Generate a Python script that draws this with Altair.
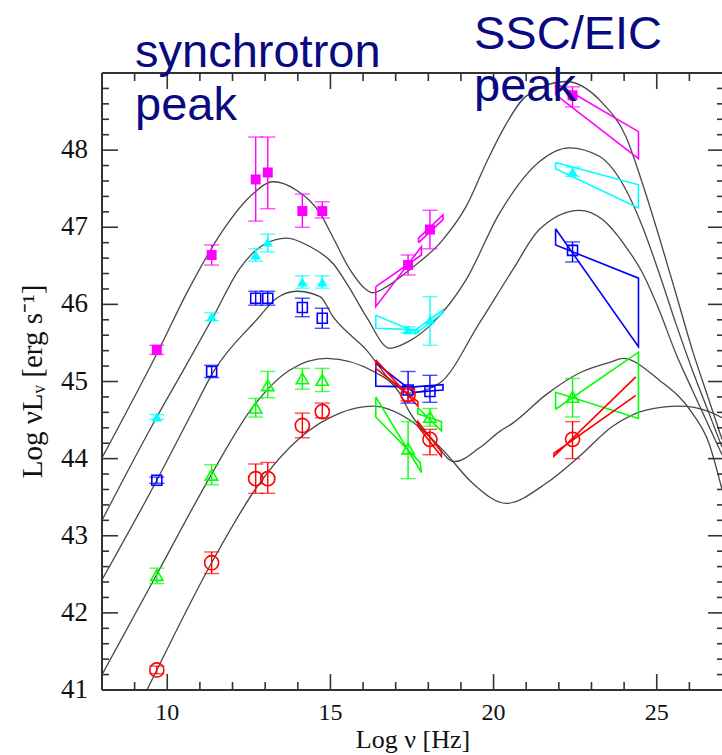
import altair as alt
import pandas as pd

# ---------------------------------------------------------------
# Plot frame (pixels) and data ranges
# ---------------------------------------------------------------
W, H = 620, 617
XMIN, XMAX = 8, 27
YMIN, YMAX = 41, 49

# log frequencies of the photometric points: radio/mm/IR/optical, X-ray, gamma
NU = [9.68, 11.36, 12.71, 13.08, 14.14, 14.75, 17.38, 18.05, 22.42]

# five luminosity bins: value, upper and lower end of the error bar
MAG_Y = [45.41, 46.64, 47.62, 47.71, 47.21, 47.21, 46.51, 46.97, 48.71]
MAG_HI = [45.47, 46.77, 48.17, 48.17, 47.43, 47.33, 46.64, 47.22, 48.82]
MAG_LO = [45.35, 46.51, 47.08, 47.24, 47.00, 47.12, 46.38, 46.72, 48.56]

CYA_Y = [44.54, 45.84, 46.64, 46.81, 46.29, 46.29, 45.67, 45.80, 47.72]
CYA_HI = [44.57, 45.89, 46.72, 46.91, 46.37, 46.37, 45.71, 46.10, 47.78]
CYA_LO = [44.51, 45.79, 46.56, 46.68, 46.21, 46.21, 45.63, 45.47, 47.66]

BLU_Y = [43.72, 45.13, 46.08, 46.08, 45.96, 45.82, 44.89, 44.87, 46.70]
BLU_HI = [43.76, 45.21, 46.17, 46.17, 46.08, 45.95, 45.13, 45.08, 46.81]
BLU_LO = [43.68, 45.05, 45.99, 45.99, 45.84, 45.69, 44.72, 44.73, 46.55]

GRN_Y = [42.49, 43.79, 44.66, 44.95, 45.04, 45.02, 44.13, 44.54, 44.80]
GRN_HI = [42.58, 43.92, 44.78, 45.13, 45.17, 45.17, 44.48, 44.65, 45.04]
GRN_LO = [42.38, 43.66, 44.54, 44.79, 44.90, 44.87, 43.74, 44.42, 44.54]

RED_Y = [41.26, 42.65, 43.74, 43.74, 44.43, 44.61, 44.83, 44.25, 44.25]
RED_HI = [41.31, 42.79, 43.93, 43.95, 44.59, 44.72, 44.90, 44.38, 44.48]
RED_LO = [41.21, 42.51, 43.55, 43.55, 44.27, 44.53, 44.75, 44.05, 44.00]

# spectral bow-ties (outline vertices, log nu / log nuLnu)
MAG_SOFTX = [(16.39, 46.23), (17.79, 46.64), (17.79, 46.75), (16.39, 45.97), (16.39, 46.23)]
MAG_HARDX = [(17.70, 46.80), (18.45, 47.10), (18.45, 47.16), (17.70, 46.86), (17.70, 46.80)]
MAG_GAMMA = [(21.90, 48.87), (24.44, 48.24), (24.44, 47.89), (21.90, 48.72), (21.90, 48.87)]

CYA_SOFTX = [(16.39, 45.86), (17.68, 45.63), (17.68, 45.67), (16.39, 45.69), (16.39, 45.86)]
CYA_HARDX = [(17.58, 45.61), (18.45, 45.89), (18.45, 45.93), (17.58, 45.66), (17.58, 45.61)]
CYA_GAMMA = [(21.90, 47.84), (24.44, 47.55), (24.44, 47.25), (21.90, 47.76), (21.90, 47.84)]

BLU_SOFTX = [(16.39, 45.24), (17.55, 44.86), (17.55, 44.93), (16.39, 44.94), (16.39, 45.24)]
BLU_HARDX = [(17.55, 44.93), (18.45, 44.96), (18.45, 44.89), (17.55, 44.86), (17.55, 44.93)]
BLU_GAMMA = [(21.90, 46.98), (24.44, 45.45), (24.44, 46.34), (21.90, 46.77), (21.90, 46.98)]

GRN_SOFTX = [(16.39, 44.80), (17.79, 43.82), (17.75, 43.95), (16.39, 44.54), (16.39, 44.80)]
GRN_HARDX = [(17.68, 44.66), (18.40, 44.36), (18.40, 44.48), (17.68, 44.58), (17.68, 44.66)]
GRN_GAMMA = [(21.90, 44.64), (24.44, 45.38), (24.44, 44.52), (21.90, 44.86), (21.90, 44.64)]

RED_SOFTX = [(16.39, 45.28), (17.68, 44.68), (17.68, 44.74), (16.39, 45.17), (16.39, 45.28)]
RED_HARDX = [(17.68, 44.42), (18.40, 44.03), (18.40, 44.09), (17.68, 44.48), (17.68, 44.42)]
RED_GAMMA = [(24.36, 45.06), (21.85, 44.03), (21.85, 44.07), (24.36, 44.82)]

# model SEDs (knots along each curve)
CURVE_1 = [(8.0, 44.01), (9.68, 45.36), (10.7, 46.23), (11.72, 46.97), (12.54, 47.40),
           (13.25, 47.59), (13.96, 47.48), (14.7, 47.17), (15.1, 46.85), (15.6, 46.45),
           (16.1, 46.19), (16.3, 46.15), (16.8, 46.25), (17.43, 46.45), (18.45, 46.84),
           (19.16, 47.27), (19.77, 47.83), (20.28, 48.26), (21.0, 48.70), (22.2, 48.89),
           (23.34, 48.61), (24.05, 48.18), (24.56, 47.57), (25.07, 46.88), (25.58, 46.15),
           (26.09, 45.41), (26.6, 44.76), (27.0, 44.25)]
CURVE_2 = [(8.0, 43.20), (9.68, 44.54), (10.5, 45.15), (11.41, 45.84), (12.23, 46.47),
           (12.94, 46.77), (13.66, 46.86), (14.37, 46.75), (15.1, 46.52), (15.6, 46.20),
           (16.1, 45.84), (16.82, 45.43), (17.4, 45.52), (18.14, 45.76), (19.16, 46.32),
           (20.18, 47.18), (21.4, 47.85), (22.32, 48.03), (23.24, 47.92), (24.05, 47.49),
           (24.56, 47.01), (25.07, 46.41), (25.58, 45.76), (26.09, 45.15), (26.6, 44.59),
           (27.0, 44.15)]
CURVE_3 = [(8.0, 42.43), (9.68, 43.72), (10.7, 44.55), (11.45, 45.15), (12.74, 45.80),
           (13.35, 46.08), (13.96, 46.17), (14.68, 46.10), (15.08, 45.84), (16.1, 45.41),
           (16.92, 44.98), (17.43, 44.85), (18.35, 44.98), (19.57, 45.76), (20.59, 46.45),
           (21.4, 46.97), (22.63, 47.22), (23.34, 47.10), (24.05, 46.75), (24.56, 46.41),
           (25.07, 45.93), (25.58, 45.37), (26.09, 44.89), (26.6, 44.42), (27.0, 44.05)]
CURVE_4 = [(8.0, 41.20), (9.68, 42.50), (11.36, 43.80), (12.64, 44.68), (13.76, 45.15),
           (14.88, 45.30), (16.41, 45.11), (17.12, 44.85), (17.43, 44.60), (18.14, 44.24),
           (18.8, 43.96), (19.57, 44.14), (20.18, 44.35), (20.59, 44.46), (21.61, 44.83),
           (22.63, 45.11), (23.65, 45.26), (23.95, 45.30), (25.07, 45.02), (26.09, 44.59),
           (26.6, 44.20), (27.0, 43.60)]
CURVE_5 = [(9.2, 40.85), (9.68, 41.26), (11.36, 42.65), (12.81, 43.67), (14.07, 44.27),
           (15.29, 44.59), (16.3, 44.68), (17.43, 44.50), (18.45, 44.11), (19.36, 43.68),
           (20.39, 43.42), (21.61, 43.68), (22.63, 44.03), (23.65, 44.42), (24.67, 44.63),
           (25.69, 44.68), (26.6, 44.61), (27.0, 44.53)]

# axis ticks and labels
X_LABELS = [10, 15, 20, 25]
Y_LABELS = [41, 42, 43, 44, 45, 46, 47, 48]
X_MINOR = [v for v in range(9, 27) if v % 5 != 0]
X_MAJOR = [10, 15, 20, 25]
Y_MINOR = [round(41 + 0.2 * k, 1) for k in range(1, 40) if k % 5 != 0]
Y_MAJOR = [42, 43, 44, 45, 46, 47, 48]

MAGENTA, CYAN, BLUE, GREEN, RED = "#ff00ff", "#00ffff", "#0000ff", "#00ff00", "#ff0000"
NAVY = "#0a0a80"
INK = "#333333"
SERIF = "Liberation Serif"

xs = alt.Scale(domain=[XMIN, XMAX], nice=False, zero=False)
ys = alt.Scale(domain=[YMIN, YMAX], nice=False, zero=False)
X = lambda f: alt.X(f, scale=xs, axis=None)
Y = lambda f: alt.Y(f, scale=ys, axis=None)


def series_frame(ys_, hi, lo):
    return pd.DataFrame({"x": NU, "y": ys_, "hi": hi, "lo": lo})


def outline_frame(groups):
    rows = []
    for gid, (pts, col) in enumerate(groups):
        for k, (x, y) in enumerate(pts):
            rows.append({"g": gid, "k": k, "x": x, "y": y, "c": col})
    return pd.DataFrame(rows)


# black model curves
curves = outline_frame([(c, INK) for c in (CURVE_1, CURVE_2, CURVE_3, CURVE_4, CURVE_5)])
curve_layer = alt.Chart(curves).mark_line(
    color="#474747", strokeWidth=1.3, interpolate="monotone", clip=True
).encode(x=X("x:Q"), y=Y("y:Q"), detail="g:N", order="k:Q")

# bow-ties
bows = outline_frame([
    (MAG_SOFTX, MAGENTA), (MAG_HARDX, MAGENTA), (MAG_GAMMA, MAGENTA),
    (CYA_SOFTX, CYAN), (CYA_HARDX, CYAN), (CYA_GAMMA, CYAN),
    (BLU_SOFTX, BLUE), (BLU_HARDX, BLUE), (BLU_GAMMA, BLUE),
    (GRN_SOFTX, GREEN), (GRN_HARDX, GREEN), (GRN_GAMMA, GREEN),
    (RED_SOFTX, RED), (RED_HARDX, RED), (RED_GAMMA, RED),
])
bow_layer = alt.Chart(bows).mark_line(strokeWidth=1.6, clip=True).encode(
    x=X("x:Q"), y=Y("y:Q"), detail="g:N", order="k:Q",
    color=alt.Color("c:N", scale=None),
)

layers = [curve_layer, bow_layer]

marker_specs = [
    (MAG_Y, MAG_HI, MAG_LO, MAGENTA, "square", True, 100),
    (CYA_Y, CYA_HI, CYA_LO, CYAN, "triangle-up", True, 110),
    (BLU_Y, BLU_HI, BLU_LO, BLUE, "square", False, 100),
    (GRN_Y, GRN_HI, GRN_LO, GREEN, "triangle-up", False, 150),
    (RED_Y, RED_HI, RED_LO, RED, "circle", False, 200),
]
for yv, hi, lo, col, shape, filled, size in marker_specs:
    df = series_frame(yv, hi, lo)
    base = alt.Chart(df)
    layers.append(base.mark_rule(color=col, strokeWidth=1.4, clip=True).encode(
        x=X("x:Q"), y=Y("lo:Q"), y2="hi:Q"))
    layers.append(base.mark_tick(color=col, orient="horizontal", size=15, thickness=1.4,
                                 clip=True).encode(x=X("x:Q"), y=Y("hi:Q")))
    layers.append(base.mark_tick(color=col, orient="horizontal", size=15, thickness=1.4,
                                 clip=True).encode(x=X("x:Q"), y=Y("lo:Q")))
    layers.append(base.mark_point(shape=shape, filled=filled, size=size, color=col,
                                  opacity=1, strokeWidth=1.6, clip=True).encode(
        x=X("x:Q"), y=Y("y:Q")))

# frame: left, top, bottom edges
frame = alt.Chart(pd.DataFrame({"a": [0]}))
layers += [
    frame.mark_rule(color=INK, strokeWidth=2).encode(
        x=alt.value(0), y=alt.value(0), y2=alt.value(H)),
    frame.mark_rule(color=INK, strokeWidth=2).encode(
        x=alt.value(0), x2=alt.value(W + 2), y=alt.value(0)),
    frame.mark_rule(color=INK, strokeWidth=2).encode(
        x=alt.value(0), x2=alt.value(W + 2), y=alt.value(H)),
]

# inward tick marks on all four sides
def xticks(vals, length):
    d = alt.Chart(pd.DataFrame({"x": vals}))
    return [
        d.mark_rule(color=INK, strokeWidth=1.6).encode(
            x=X("x:Q"), y=alt.value(H), y2=alt.value(H - length)),
        d.mark_rule(color=INK, strokeWidth=1.6).encode(
            x=X("x:Q"), y=alt.value(0), y2=alt.value(length)),
    ]


def yticks(vals, length):
    d = alt.Chart(pd.DataFrame({"y": vals}))
    return [
        d.mark_rule(color=INK, strokeWidth=1.6).encode(
            y=Y("y:Q"), x=alt.value(0), x2=alt.value(length)),
        d.mark_rule(color=INK, strokeWidth=1.6).encode(
            y=Y("y:Q"), x=alt.value(W + 2), x2=alt.value(W + 2 - length)),
    ]


layers += xticks(X_MINOR, 8) + xticks(X_MAJOR, 16) + yticks(Y_MINOR, 7) + yticks(Y_MAJOR, 16)

# tick labels
layers.append(alt.Chart(pd.DataFrame({"x": X_LABELS})).mark_text(
    font=SERIF, fontSize=24, baseline="top", color="#111").encode(
    x=X("x:Q"), y=alt.value(H + 11), text=alt.Text("x:Q", format="d")))
layers.append(alt.Chart(pd.DataFrame({"y": Y_LABELS})).mark_text(
    font=SERIF, fontSize=27, align="right", baseline="middle", color="#111").encode(
    y=Y("y:Q"), x=alt.value(-14), text=alt.Text("y:Q", format="d")))

# axis titles
layers.append(frame.mark_text(font=SERIF, fontSize=26, color="#111", baseline="alphabetic").encode(
    x=alt.value(W / 2 + 1), y=alt.value(H + 58), text=alt.value("Log  \u03bd  [Hz]")))
layers.append(frame.mark_text(font=SERIF, fontSize=29, color="#111", angle=270,
                              baseline="alphabetic").encode(
    x=alt.value(-60), y=alt.value(H / 2), text=alt.value("Log \u03bdL\u1d65 [erg s\u207b\u00b9]")))

# annotations
for txt, px, py in [("synchrotron", 33, -6), ("peak", 33, 47),
                    ("SSC/EIC", 372, -24), ("peak", 372, 28)]:
    layers.append(frame.mark_text(font="Liberation Sans", fontSize=47, color=NAVY,
                                  align="left", baseline="alphabetic").encode(
        x=alt.value(px), y=alt.value(py), text=alt.value(txt)))

chart = alt.layer(*layers).properties(
    width=W, height=H,
    autosize=alt.AutoSizeParams(type="none"),
    padding={"left": 102, "top": 73, "right": 0, "bottom": 65},
).configure_view(stroke=None).configure(background="white")

chart.save("out.html", embed_options={"renderer": "svg", "actions": False})
